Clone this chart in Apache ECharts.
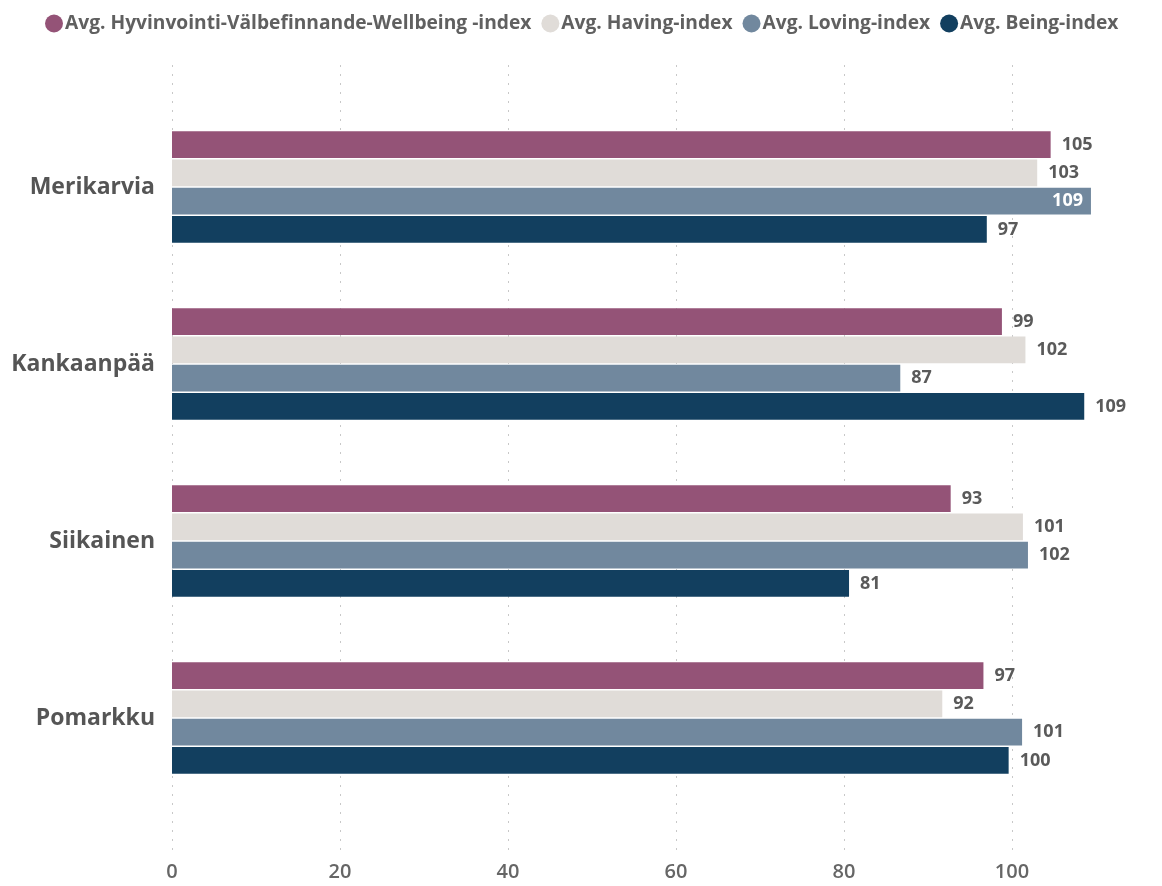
<!DOCTYPE html>
<html>
<head>
<meta charset="utf-8">
<script src="https://cdn.jsdelivr.net/npm/echarts@6/dist/echarts.min.js"></script>
<style>
html,body{margin:0;padding:0;background:#fff;}
#main{width:1162px;height:886px;}
</style>
</head>
<body>
<div id="main"></div>
<script>
const categories = ['Merikarvia', 'Kankaanpää', 'Siikainen', 'Pomarkku'];
const seriesNames = [
  'Avg. Hyvinvointi-Välbefinnande-Wellbeing -index',
  'Avg. Having-index',
  'Avg. Loving-index',
  'Avg. Being-index'
];
const wellbeing = [104.6, 98.8, 92.7, 96.6];
const having = [103.0, 101.6, 101.3, 91.7];
const loving = [109.4, 86.7, 101.9, 101.2];
const being = [97.0, 108.6, 80.6, 99.6];
const xTicks = [0, 20, 40, 60, 80, 100];

const colors = ['#945377', '#E0DCD8', '#71889E', '#123F5F'];
const axisMax = 110;
const valuesList = [wellbeing, having, loving, being];
const fontFam = '"Open Sans", "Noto Sans", sans-serif';

const series = valuesList.map((vals, si) => ({
  name: seriesNames[si],
  type: 'bar',
  xAxisIndex: 0,
  yAxisIndex: 0,
  barGap: '5.6%',
  barCategoryGap: '37%',
  itemStyle: { color: colors[si] },
  data: vals.map(v => {
    const inside = v > axisMax - 1;
    return {
      value: v,
      label: inside ? { position: 'insideRight', color: '#ffffff', distance: 8 } : undefined
    };
  }),
  label: {
    show: true,
    position: 'right',
    distance: 11,
    color: '#5a5a5a',
    fontFamily: fontFam,
    fontWeight: 'bold',
    fontSize: 18,
    formatter: p => Math.round(p.value)
  }
}));

const chart = echarts.init(document.getElementById('main'));
chart.setOption({
  backgroundColor: '#ffffff',
  animation: false,
  color: colors,
  legend: {
    left: 40,
    top: 9,
    icon: 'circle',
    itemWidth: 18,
    itemHeight: 18,
    itemGap: 10,
    textStyle: { color: '#606060', fontFamily: fontFam, fontWeight: 'bold', fontSize: 19.2, padding: [0, 0, 0, -3] },
    data: seriesNames
  },
  grid: [
    { left: 172, width: 924, top: 98.5, bottom: 79.5 },
    { left: 172, width: 924, top: 65, bottom: 33 }
  ],
  xAxis: [
    { type: 'value', gridIndex: 0, min: 0, max: axisMax, show: false },
    {
      type: 'value', gridIndex: 1, min: 0, max: axisMax, interval: xTicks[1] - xTicks[0],
      axisLine: { show: false }, axisTick: { show: false },
      axisLabel: { color: '#666666', fontFamily: fontFam, fontWeight: 600, fontSize: 20, margin: 9, showMaxLabel: false,
        formatter: v => xTicks.includes(v) ? String(v) : '' },
      splitLine: { show: true, showMaxLine: false, lineStyle: { color: '#c8c8c8', type: [2, 7], width: 1 } }
    }
  ],
  yAxis: [
    {
      type: 'category', gridIndex: 0, inverse: true, data: categories,
      axisLine: { show: false }, axisTick: { show: false },
      axisLabel: { color: '#555555', fontFamily: fontFam, fontWeight: 'bold', fontSize: 23, margin: 17 }
    },
    { type: 'value', gridIndex: 1, show: false, min: 0, max: 1 }
  ],
  series: series
});
</script>
</body>
</html>
